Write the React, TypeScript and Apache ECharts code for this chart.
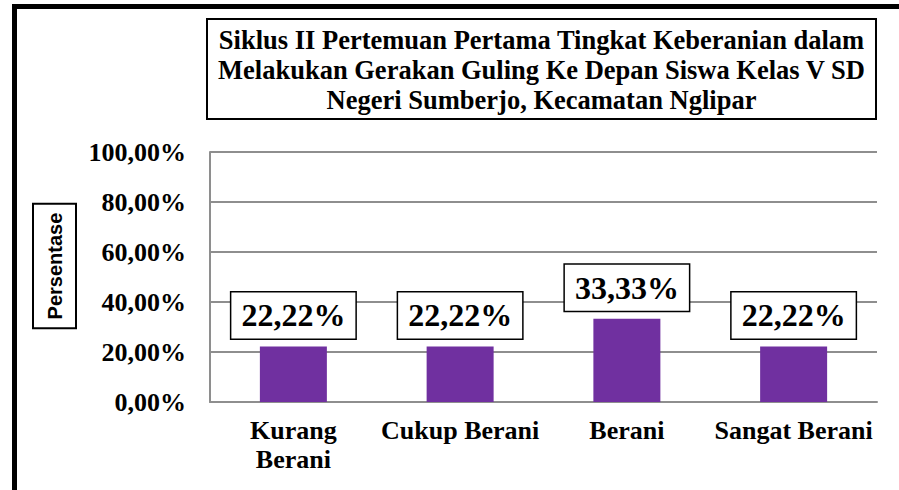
import React, { useEffect, useRef } from "react";
import * as echarts from "echarts";

const titleLines = [
  "Siklus II Pertemuan Pertama Tingkat Keberanian dalam",
  "Melakukan Gerakan Guling Ke Depan Siswa Kelas V SD",
  "Negeri Sumberjo, Kecamatan Nglipar",
];
const categories = ["Kurang Berani", "Cukup Berani", "Berani", "Sangat Berani"];
const values = [22.22, 22.22, 33.33, 22.22];
const yAxisName = "Persentase";

const SERIF = '"Liberation Serif", "Times New Roman", serif';

export default function App() {
  const ref = useRef<HTMLDivElement>(null);
  useEffect(() => {
    if (!ref.current) return;
    const chart = echarts.init(ref.current, undefined, { renderer: "svg" });
    const fmt = (v: number) => v.toFixed(2).replace(".", ",") + "%";
    chart.setOption({
      animation: false,
      backgroundColor: "#fff",
      grid: { left: 210, right: 22, top: 152, bottom: 88, containLabel: false },
      xAxis: {
        type: "category",
        data: categories,
        axisLine: { show: true, lineStyle: { color: "#8e8e8e", width: 2 } },
        axisTick: { show: false },
        axisLabel: {
          interval: 0,
          margin: 14,
          color: "#000",
          fontFamily: SERIF,
          fontWeight: "bold",
          fontSize: 26,
          lineHeight: 29,
          formatter: (v: string) => (v === "Kurang Berani" ? "Kurang\nBerani" : v),
        },
      },
      yAxis: {
        type: "value",
        min: 0,
        max: 100,
        interval: 20,
        axisLine: { show: true, lineStyle: { color: "#8e8e8e", width: 2 } },
        axisTick: { show: false },
        splitLine: { show: true, lineStyle: { color: "#8e8e8e", width: 2 } },
        axisLabel: {
          margin: 24,
          color: "#000",
          fontFamily: SERIF,
          fontWeight: "bold",
          fontSize: 26,
          formatter: (v: number) => fmt(v),
        },
      },
      series: [
        {
          type: "bar",
          data: values,
          barWidth: 67,
          itemStyle: { color: "#7030A0" },
          label: {
            show: true,
            position: "top",
            distance: 8,
            formatter: (p: any) => fmt(p.value),
            color: "#000",
            fontFamily: SERIF,
            fontWeight: "bold",
            fontSize: 32,
            lineHeight: 36,
            backgroundColor: "#fff",
            borderColor: "#000",
            borderWidth: 1.5,
            padding: [5, 10],
          },
        },
      ],
      graphic: [
        {
          type: "rect",
          silent: true,
          shape: { x: 14.5, y: 6.5, width: 1000, height: 1000 },
          style: { fill: "none", stroke: "#000", lineWidth: 5 },
        },
        {
          type: "rect",
          silent: true,
          shape: { x: 207, y: 19, width: 669, height: 100 },
          style: { fill: "#fff", stroke: "#000", lineWidth: 2 },
        },
        {
          type: "text",
          silent: true,
          x: 541.5,
          y: 70,
          style: {
            text: titleLines.join("\n"),
            font: `bold 26.5px ${SERIF}`,
            fill: "#000",
            textAlign: "center",
            align: "center",
            textVerticalAlign: "middle",
            verticalAlign: "middle",
            lineHeight: 30,
          },
        },
        {
          type: "text",
          silent: true,
          x: 54.5,
          y: 266,
          rotation: Math.PI / 2,
          style: {
            text: yAxisName,
            font: 'bold 20px "Liberation Sans", Arial, sans-serif',
            fill: "#000",
            textAlign: "center",
            align: "center",
            textVerticalAlign: "middle",
            verticalAlign: "middle",
            lineHeight: 23,
            backgroundColor: "#fff",
            borderColor: "#000",
            borderWidth: 2,
            padding: [9, 8],
          },
        },
      ],
    });
    return () => chart.dispose();
  }, []);
  return (
    <div
      ref={ref}
      style={{ position: "absolute", left: 0, top: 0, width: 899, height: 490 }}
    />
  );
}
